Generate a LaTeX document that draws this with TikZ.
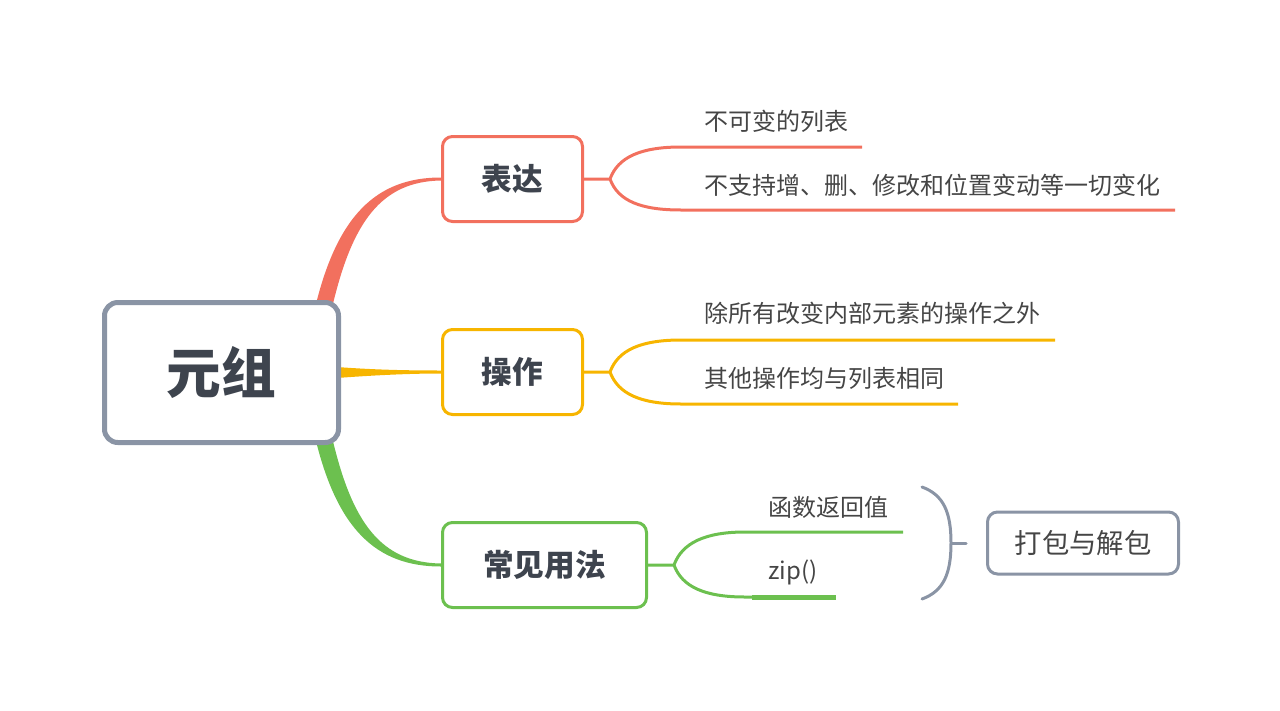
\documentclass[tikz,border=0pt]{standalone}
\usepackage{fontspec}
\setmainfont{Noto Sans CJK SC}
\usetikzlibrary{positioning,backgrounds,calc}
\definecolor{exprred}{HTML}{F2705E}
\definecolor{opyellow}{HTML}{F7B500}
\definecolor{usegreen}{HTML}{6CC04F}
\definecolor{rootgray}{HTML}{8A94A5}
\definecolor{inkdark}{HTML}{3E444E}
\definecolor{leafink}{HTML}{454545}

\begin{document}
\begin{tikzpicture}[x=0.75pt, y=-0.75pt,
  root/.style={draw=rootgray, line width=3.75pt, rounded corners=10pt, fill=white,
               minimum width=175.5pt, minimum height=105pt, text=inkdark,
               font=\fontsize{41}{45}\selectfont\bfseries},
  branch/.style={draw=#1, line width=2.25pt, rounded corners=7.5pt, fill=white,
                 minimum width=105pt, minimum height=63.75pt, text=inkdark,
                 font=\fontsize{23}{26}\selectfont\bfseries},
  leaf/.style={anchor=west, inner sep=0pt, text=leafink, font=\fontsize{18}{20}\selectfont},
  fork/.style={draw=#1, line width=2.25pt},
  brace/.style={draw=rootgray, line width=2.25pt, line cap=round}
]
\useasboundingbox (0,0) rectangle (1280,710);

% ---------- main nodes ----------
\node[root] (tuple) at (221.5,372.5) {元组};
\node[branch=exprred] (expr) at (512.5,179) {表达};
\node[branch=opyellow] (oper) at (512.5,372) {操作};
\node[branch=usegreen, minimum width=153pt] (usage) at (544.5,565) {常见用法};

% ---------- tapered links from the root ----------
\begin{scope}[on background layer]
  \fill[exprred] ($(tuple.north east)+(-26,8)$)
    .. controls +(22,-92) and +(-65,0) .. ($(expr.west)+(0,-1.5)$)
    -- ($(expr.west)+(0,1.5)$)
    .. controls +(-60,1) and +(20,-86) .. ($(tuple.north east)+(-9,8)$) -- cycle;
  \fill[opyellow] ($(tuple.east)+(-4,-5.5)$)
    .. controls +(40,3) and +(-30,0) .. ($(oper.west)+(0,-1.5)$)
    -- ($(oper.west)+(0,1.5)$)
    .. controls +(-30,0) and +(40,-3) .. ($(tuple.east)+(-4,5.5)$) -- cycle;
  \fill[usegreen] ($(tuple.south east)+(-26,-8)$)
    .. controls +(22,92) and +(-65,0) .. ($(usage.west)+(0,1.5)$)
    -- ($(usage.west)+(0,-1.5)$)
    .. controls +(-60,-1) and +(20,86) .. ($(tuple.south east)+(-9,-8)$) -- cycle;
\end{scope}

% ---------- expression ----------
\coordinate (efork) at ($(expr.east)+(26,0)$);
\coordinate (eup) at (862,147);
\coordinate (edown) at (1175,210);
\draw[fork=exprred] (expr.east) -- (efork)
  .. controls +(8,-22) and +(-40,0) .. ++(71,-32) -- (eup);
\draw[fork=exprred] (efork)
  .. controls +(8,22) and +(-40,0) .. ++(71,31) -- (edown);
\node[leaf] (e1) at (704,121) {不可变的列表};
\node[leaf] (e2) at (704,185) {不支持增、删、修改和位置变动等一切变化};

% ---------- operation ----------
\coordinate (ofork) at ($(oper.east)+(26,0)$);
\coordinate (oup) at (1055,340);
\coordinate (odown) at (958,404);
\draw[fork=opyellow] (oper.east) -- (ofork)
  .. controls +(8,-22) and +(-40,0) .. ++(71,-32) -- (oup);
\draw[fork=opyellow] (ofork)
  .. controls +(8,22) and +(-40,0) .. ++(71,32) -- (odown);
\node[leaf] (o1) at (704,313) {除所有改变内部元素的操作之外};
\node[leaf] (o2) at (704,378) {其他操作均与列表相同};

% ---------- usage ----------
\coordinate (ufork) at ($(usage.east)+(26,0)$);
\coordinate (uup) at (903,532);
\coordinate (udown) at (836,597);
\draw[fork=usegreen] (usage.east) -- (ufork)
  .. controls +(8,-22) and +(-40,0) .. ++(71,-33) -- (uup);
\draw[fork=usegreen] (ufork)
  .. controls +(8,22) and +(-40,0) .. ++(71,32) -- (752,597);
\draw[usegreen, line width=3.75pt] (752,597) -- (udown);
\node[leaf] (u1) at (768,507) {函数返回值};
\node[leaf] (u2) at (768,572) {zip()};

% ---------- summary ----------
\coordinate (btop) at (922,487);
\coordinate (bbot) at (922,599);
\coordinate (bmid) at (951,543);
\coordinate (btick) at (966,543);
\draw[brace] (btop) .. controls +(22,8) and +(0,-30) .. (bmid)
  .. controls +(0,30) and +(22,-8) .. (bbot);
\draw[brace] (bmid) -- (btick);
\node[draw=rootgray, line width=2.25pt, rounded corners=7.5pt, fill=white,
      minimum width=143.25pt, minimum height=46.5pt, text=leafink,
      font=\fontsize{20.5}{23}\selectfont, right=15pt of btick] (pack) {打包与解包};

\end{tikzpicture}
\end{document}
